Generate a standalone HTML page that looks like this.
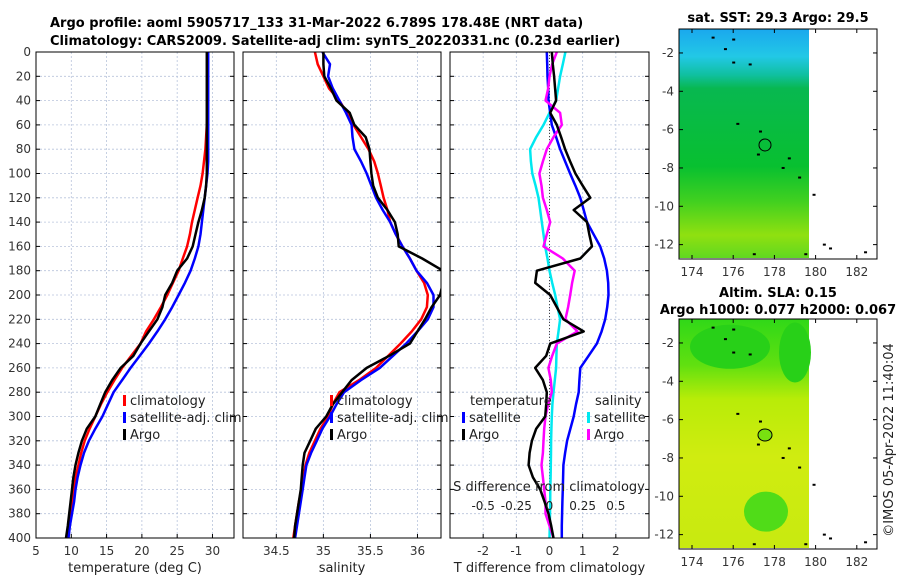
<!DOCTYPE html>
<html><head><meta charset="utf-8">
<style>
body{margin:0;background:#fff;width:900px;height:580px;overflow:hidden;font-family:"Liberation Sans","DejaVu Sans",sans-serif}
svg text{font-family:"DejaVu Sans","Liberation Sans",sans-serif}
</style></head>
<body>
<svg id="fig" width="900" height="580" xmlns="http://www.w3.org/2000/svg">
<defs>
<linearGradient id="sstg" x1="0" y1="0" x2="0" y2="1">
<stop offset="0" stop-color="#1aa8ee"/><stop offset="0.12" stop-color="#22c8e6"/><stop offset="0.2" stop-color="#10c0a0"/>
<stop offset="0.26" stop-color="#08b850"/><stop offset="0.6" stop-color="#08c030"/><stop offset="0.75" stop-color="#40d020"/>
<stop offset="0.9" stop-color="#90e010"/><stop offset="1" stop-color="#60d820"/></linearGradient>
<linearGradient id="slag" x1="0" y1="0" x2="0" y2="1">
<stop offset="0" stop-color="#30d818"/><stop offset="0.2" stop-color="#60e010"/><stop offset="0.35" stop-color="#b8ec08"/>
<stop offset="0.6" stop-color="#d0ec10"/><stop offset="1" stop-color="#c8ea10"/></linearGradient>
</defs>
<g font-weight="bold" font-size="13" fill="#000">
<text x="50" y="27">Argo profile: aoml 5905717_133 31-Mar-2022 6.789S 178.48E (NRT data)</text>
<text x="50" y="45">Climatology: CARS2009. Satellite-adj clim: synTS_20220331.nc (0.23d earlier)</text>
<text x="778" y="22" text-anchor="middle">sat. SST: 29.3 Argo: 29.5</text>
<text x="778" y="297" text-anchor="middle">Altim. SLA: 0.15</text>
<text x="778" y="314" text-anchor="middle">Argo h1000: 0.077 h2000: 0.067</text>
</g>
<g id="panels"></g>
<g id="maps"></g>
<text transform="translate(893,440) rotate(-90)" font-size="13" fill="#222" text-anchor="middle">©IMOS 05-Apr-2022 11:40:04</text>
</svg>
<script>
const depths=[0,10,20,30,40,50,60,70,80,90,100,110,120,130,140,150,160,170,180,190,200,210,220,230,240,250,260,270,280,290,300,310,320,330,340,350,360,370,380,390,400];
const tempArgo=[29.2,29.2,29.2,29.2,29.2,29.2,29.2,29.2,29.2,29.2,29.2,29.1,28.9,28.5,28.0,27.6,27.2,26.4,25.0,24.3,23.3,22.9,22.2,21.0,19.8,18.8,17.0,15.8,14.8,14.1,13.4,12.2,11.5,11.0,10.6,10.3,10.1,9.9,9.7,9.5,9.25];
const tempClim=[29.3,29.3,29.3,29.3,29.3,29.3,29.2,29.1,29.0,28.8,28.6,28.3,27.9,27.5,27.1,26.8,26.4,25.8,25.2,24.4,23.6,22.7,21.7,20.6,19.8,18.5,17.2,16.1,15.1,14.2,13.4,12.6,11.9,11.4,11.0,10.6,10.3,10.1,9.9,9.6,9.4];
const tempSat=[29.4,29.4,29.4,29.4,29.4,29.4,29.4,29.4,29.4,29.4,29.3,29.1,28.9,28.7,28.5,28.3,28.0,27.5,26.9,26.1,25.2,24.3,23.3,22.2,21.0,19.7,18.4,17.2,16.0,15.2,14.4,13.4,12.5,11.8,11.3,10.9,10.6,10.4,10.1,9.8,9.6];
const salArgo=[35.0,35.0,35.01,35.08,35.14,35.28,35.33,35.45,35.49,35.5,35.51,35.53,35.58,35.68,35.76,35.79,35.8,36.05,36.27,36.27,36.24,36.15,36.08,36.0,35.92,35.7,35.46,35.3,35.2,35.1,35.03,34.92,34.86,34.8,34.78,34.77,34.76,34.74,34.72,34.7,34.69];
const salClim=[34.91,34.94,35.0,35.06,35.17,35.25,35.32,35.4,35.48,35.54,35.58,35.61,35.64,35.68,35.71,35.77,35.84,35.92,35.99,36.07,36.11,36.1,36.04,35.94,35.82,35.69,35.56,35.38,35.17,35.1,35.05,34.97,34.91,34.85,34.81,34.79,34.77,34.74,34.72,34.7,34.68];
const salSat=[34.99,35.07,35.05,35.1,35.17,35.24,35.3,35.31,35.33,35.4,35.46,35.51,35.56,35.63,35.71,35.77,35.84,35.92,35.99,36.1,36.17,36.17,36.11,36.0,35.88,35.74,35.6,35.4,35.22,35.14,35.07,34.99,34.93,34.87,34.82,34.8,34.78,34.76,34.74,34.72,34.7];
const dTArgo=[0.07,0.1,0.14,0.17,0.2,0.02,0.22,0.35,0.47,0.62,0.78,1.0,1.23,0.73,1.13,1.2,1.28,0.93,-0.38,-0.43,0.02,0.22,0.42,1.03,0.02,-0.1,-0.43,-0.2,-0.08,-0.1,-0.13,-0.4,-0.53,-0.6,-0.63,-0.5,-0.28,-0.15,-0.03,0.05,0.12];
const dTSat=[-0.08,-0.07,-0.06,-0.04,-0.03,0.02,0.07,0.2,0.32,0.47,0.62,0.78,0.93,1.03,1.13,1.33,1.53,1.65,1.73,1.77,1.78,1.74,1.68,1.57,1.43,1.18,0.93,0.9,0.88,0.8,0.73,0.63,0.53,0.47,0.42,0.41,0.4,0.39,0.38,0.37,0.37];
const dSSat=[0.12,0.1,0.08,0.065,0.05,0.0,-0.045,-0.1,-0.146,-0.14,-0.13,-0.105,-0.083,-0.07,-0.058,-0.045,-0.033,-0.015,0,0.02,0.043,0.06,0.08,0.068,0.055,0.052,0.05,0.04,0.03,0.022,0.017,0.014,0.012,0.011,0.01,0.008,0.006,0.005,0.004,0.002,0];
const dSArgo=[0.055,0.02,0,-0.01,-0.03,0.08,0.093,0.03,-0.02,-0.05,-0.076,-0.06,-0.05,-0.02,0.005,-0.02,-0.045,0.1,0.19,0.17,0.156,0.14,0.12,0.21,0.055,0.02,-0.008,0.01,0.017,-0.01,-0.03,-0.04,-0.045,-0.05,-0.06,-0.05,-0.04,-0.03,-0.03,0,0.03];
const depthTicks=[0,20,40,60,80,100,120,140,160,180,200,220,240,260,280,300,320,340,360,380,400];
const tTicks=[5,10,15,20,25,30];
const sTicks=[34.5,35,35.5,36];
const dTicks=[-2,-1,0,1,2];
const dsTicks=[-0.5,-0.25,0,0.25,0.5];
const latTicks=[-2,-4,-6,-8,-10,-12];
const lonTicks=[174,176,178,180,182];

const NS='http://www.w3.org/2000/svg';
function mk(tag,attrs,parent,txt){const e=document.createElementNS(NS,tag);for(const k in attrs)e.setAttribute(k,attrs[k]);if(txt!==undefined)e.textContent=txt;parent.appendChild(e);return e;}
const TOP=52,BOT=538;
const yD=d=>TOP+(d-0)/400*(BOT-TOP);
const root=document.getElementById('panels');
const panels=[
 {x0:36,x1:234,min:5,max:33.05,ticks:tTicks,name:'temperature',label:'temperature (deg C)'},
 {x0:243,x1:441,min:34.146,max:36.25,ticks:sTicks,name:'salinity',label:'salinity'},
 {x0:450,x1:649,min:-3.0,max:3.0,ticks:dTicks,name:'difference',label:'T difference from climatology'}];
panels.forEach((p,i)=>{
 const g=mk('g',{},root);
 
 
 p.sx=v=>p.x0+(v-p.min)/(p.max-p.min)*(p.x1-p.x0);
 const cp=mk('clipPath',{id:'cp'+i},g);mk('rect',{x:p.x0,y:TOP,width:p.x1-p.x0,height:BOT-TOP},cp);
 depthTicks.forEach(d=>{const l=mk('line',{x1:p.x0,x2:p.x1,y1:yD(d),y2:yD(d),stroke:'#b8c4dc','stroke-width':0.8,'stroke-dasharray':'2,2'},g);
  
  mk('line',{x1:p.x0,x2:p.x0+4,y1:yD(d),y2:yD(d),stroke:'#000'},g);mk('line',{x1:p.x1-4,x2:p.x1,y1:yD(d),y2:yD(d),stroke:'#000'},g);});
 p.ticks.forEach(t=>{const x=p.sx(t);const l=mk('line',{x1:x,x2:x,y1:TOP,y2:BOT,stroke:'#b8c4dc','stroke-width':0.8,'stroke-dasharray':'2,2'},g);
  
  const tx=mk('text',{x:x,y:BOT+17,'font-size':12,'text-anchor':'middle',fill:'#333'},g,String(t));
  
  mk('line',{x1:x,x2:x,y1:BOT,y2:BOT-4,stroke:'#000'},g);});
 const lab=mk('text',{x:(p.x0+p.x1)/2,y:BOT+34,'font-size':13,'text-anchor':'middle',fill:'#222'},g,p.label);
 
 p.g=g;
});
depthTicks.forEach(d=>{const t=mk('text',{x:31,y:yD(d)+4,'font-size':12,'text-anchor':'end',fill:'#333'},root,String(d));
 });
function line(p,vals,color,w,name,scale){
 const pts=vals.map((v,i)=>p.sx(v*(scale||1)).toFixed(1)+','+yD(depths[i]).toFixed(1)).join(' ');
 const pl=mk('polyline',{points:pts,fill:'none',stroke:color,'stroke-width':w,'stroke-linejoin':'round','clip-path':'url(#cp'+panels.indexOf(p)+')'},p.g);
 }
const [P1,P2,P3]=panels;
line(P1,tempClim,'#ff0000',2.5,'temp-climatology-line');
line(P1,tempSat,'#0000ff',2.5,'temp-satellite-line');
line(P1,tempArgo,'#000',2.5,'temp-argo-line');
line(P2,salClim,'#ff0000',2.5,'sal-climatology-line');
line(P2,salSat,'#0000ff',2.5,'sal-satellite-line');
line(P2,salArgo,'#000',2.5,'sal-argo-line');
mk('line',{x1:P3.sx(0),x2:P3.sx(0),y1:TOP,y2:BOT,stroke:'#444','stroke-dasharray':'1,2'},P3.g);
line(P3,dSSat,'#00e8f0',2.5,'sal-diff-satellite-line',4);
line(P3,dTSat,'#0000ff',2.5,'temp-diff-satellite-line');
line(P3,dSArgo,'#ff00ff',2.5,'sal-diff-argo-line',4);
line(P3,dTArgo,'#000',2.5,'temp-diff-argo-line');
const st=mk('text',{x:549,y:491,'font-size':13,'text-anchor':'middle',fill:'#222'},P3.g,'S difference from climatology');

dsTicks.forEach(s=>{const t=mk('text',{x:P3.sx(s*4),y:510,'font-size':12,'text-anchor':'middle',fill:'#222'},P3.g,String(s));
 });
panels.forEach(p=>{mk('rect',{x:p.x0,y:TOP,width:p.x1-p.x0,height:BOT-TOP,fill:'none',stroke:'#000','stroke-width':1},p.g);});
function leg(g,x,y,color,txt,name){mk('rect',{x:x,y:y-9,width:3,height:11,fill:color},g);
 const t=mk('text',{x:x+7,y:y+1,'font-size':13,fill:'#222'},g,txt);
 }
leg(P1.g,123,404,'#ff0000','climatology','legend-climatology');
leg(P1.g,123,421,'#0000ff','satellite-adj. clim','legend-satellite-adj');
leg(P1.g,123,438,'#000','Argo','legend-argo');
leg(P2.g,330,404,'#ff0000','climatology','legend-climatology-sal');
leg(P2.g,330,421,'#0000ff','satellite-adj. clim','legend-satellite-adj-sal');
leg(P2.g,330,438,'#000','Argo','legend-argo-sal');
mk('text',{x:470,y:405,'font-size':13,fill:'#222'},P3.g,'temperature');
mk('text',{x:595,y:405,'font-size':13,fill:'#222'},P3.g,'salinity');
leg(P3.g,462,421,'#0000ff','satellite','legend-temp-satellite');
leg(P3.g,462,438,'#000','Argo','legend-temp-argo');
leg(P3.g,587,421,'#00e8f0','satellite','legend-sal-satellite');
leg(P3.g,587,438,'#ff00ff','Argo','legend-sal-argo');
// maps
const mg=document.getElementById('maps');
const maps=[{y0:29,y1:259,lat0:-0.75,lat1:-12.75,fill:'url(#sstg)',name:'sst-map'},{y0:319,y1:549,lat0:-0.75,lat1:-12.75,fill:'url(#slag)',name:'sla-map'}];
const lonX=l=>692+(l-174)*20.6;
maps.forEach(m=>{
 const g=mk('g',{},mg);
 const ly=v=>m.y0+(v-m.lat0)/(m.lat1-m.lat0)*(m.y1-m.y0);
 mk('rect',{x:679,y:m.y0,width:130,height:m.y1-m.y0-1,fill:m.fill},g);
 if(m.name==='sla-map'){
  mk('ellipse',{cx:766,cy:ly(-10.8),rx:22,ry:20,fill:'#50dc18'},g);
  mk('ellipse',{cx:730,cy:ly(-2.2),rx:40,ry:22,fill:'#28d018'},g);
  mk('ellipse',{cx:795,cy:ly(-2.5),rx:16,ry:30,fill:'#28d018'},g);
  mk('ellipse',{cx:765,cy:ly(-6.8),rx:7,ry:6,fill:'#78e010',stroke:'#000'},g);
 } else mk('ellipse',{cx:765,cy:ly(-6.8),rx:6,ry:6,fill:'none',stroke:'#000'},g);
 [[175,-1.2],[176,-1.3],[175.6,-1.8],[176,-2.5],[176.8,-2.6],[176.2,-5.7],[177.3,-6.1],[177.2,-7.3],[178.7,-7.5],[178.4,-8],[179.2,-8.5],[179.9,-9.4],[177,-12.5],[179.5,-12.5],[180.4,-12],[180.7,-12.2],[182.4,-12.4]].forEach(([lo,la])=>mk('rect',{x:lonX(lo)-1,y:ly(la)-1,width:3,height:2,fill:'#000'},g));
 mk('rect',{x:679,y:m.y0,width:198,height:m.y1-m.y0,fill:'none',stroke:'#000'},g);
 latTicks.forEach(l=>{const y=ly(l);mk('line',{x1:679,x2:683,y1:y,y2:y,stroke:'#000'},g);mk('line',{x1:873,x2:877,y1:y,y2:y,stroke:'#000'},g);
  const t=mk('text',{x:674,y:y+4,'font-size':12,'text-anchor':'end',fill:'#333'},g,String(l));
  });
 lonTicks.forEach(l=>{const x=lonX(l);mk('line',{x1:x,x2:x,y1:m.y1,y2:m.y1-4,stroke:'#000'},g);mk('line',{x1:x,x2:x,y1:m.y0,y2:m.y0+4,stroke:'#000'},g);
  const t=mk('text',{x:x,y:m.y1+17,'font-size':12,'text-anchor':'middle',fill:'#333'},g,String(l));
  });
});
</script>
</body></html>
